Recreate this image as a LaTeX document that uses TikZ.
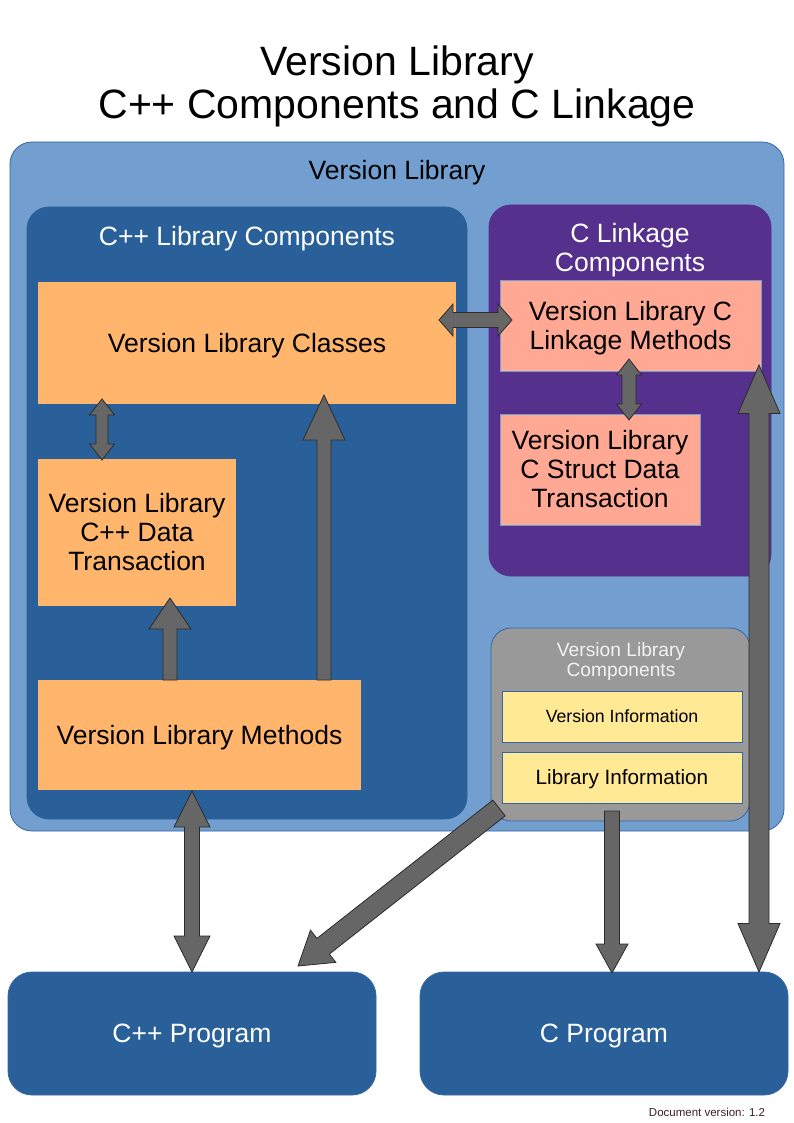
\documentclass[tikz,border=0pt]{standalone}
\usepackage{fontspec}
\setmainfont{Liberation Sans}
\usetikzlibrary{calc}
\definecolor{lightblue}{HTML}{729FCF}
\definecolor{edgeblue}{HTML}{3465A4}
\definecolor{darkblue}{HTML}{2A6099}
\definecolor{purplebg}{HTML}{55308D}
\definecolor{orangebox}{HTML}{FFB66C}
\definecolor{salmonbox}{HTML}{FFA893}
\definecolor{greybox}{HTML}{999999}
\definecolor{yellowbox}{HTML}{FFE994}
\definecolor{arrowfill}{HTML}{666666}
\definecolor{arrowedge}{HTML}{2B2B2B}
\definecolor{footcol}{HTML}{3B1E2B}

% single fat arrow: #1 start, #2 tip, #3 half shaft, #4 half head, #5 head length
\newcommand\fatarrow[5]{%
  \coordinate (fa-a) at #1; \coordinate (fa-b) at #2;
  \coordinate (fa-h) at ($(fa-b)!#5!(fa-a)$);
  \draw[arrowshape] ($(fa-a)!#3!90:(fa-b)$) -- ($(fa-h)!#3!90:(fa-b)$) -- ($(fa-h)!#4!90:(fa-b)$) -- (fa-b)
    -- ($(fa-h)!#4!-90:(fa-b)$) -- ($(fa-h)!#3!-90:(fa-b)$) -- ($(fa-a)!#3!-90:(fa-b)$) -- cycle;}
% double fat arrow
\newcommand\fatdarrow[5]{%
  \coordinate (fa-a) at #1; \coordinate (fa-b) at #2;
  \coordinate (fa-h1) at ($(fa-a)!#5!(fa-b)$);
  \coordinate (fa-h2) at ($(fa-b)!#5!(fa-a)$);
  \draw[arrowshape] (fa-a) -- ($(fa-h1)!#4!90:(fa-b)$) -- ($(fa-h1)!#3!90:(fa-b)$) -- ($(fa-h2)!#3!90:(fa-b)$)
    -- ($(fa-h2)!#4!90:(fa-b)$) -- (fa-b) -- ($(fa-h2)!#4!-90:(fa-b)$) -- ($(fa-h2)!#3!-90:(fa-b)$)
    -- ($(fa-h1)!#3!-90:(fa-b)$) -- ($(fa-h1)!#4!-90:(fa-b)$) -- cycle;}

\begin{document}
\begin{tikzpicture}[x=1pt,y=-1pt,
  boxbase/.style={inner sep=0pt, outer sep=0pt, anchor=north west, align=center},
  container/.style={boxbase, rounded corners=22pt, line width=0.8pt},
  mainfont/.style={font=\fontsize{26.5}{29}\selectfont},
  oneline/.style={text height=24pt, text depth=5.6pt},
  orangestyle/.style={boxbase, mainfont, fill=orangebox, text=black},
  salmonstyle/.style={boxbase, mainfont, fill=salmonbox, draw=lightblue, line width=0.8pt, text=black},
  yellowstyle/.style={boxbase, fill=yellowbox, draw=edgeblue, line width=0.8pt, text=black},
  program/.style={boxbase, mainfont, oneline, rounded corners=24pt, fill=darkblue, draw=edgeblue, line width=0.8pt, text=white},
  arrowshape/.style={fill=arrowfill, draw=arrowedge, line width=0.8pt, line join=miter},
  ]
\useasboundingbox (0,0) rectangle (794,1123);

% title
\node[font=\fontsize{41}{43}\selectfont, align=center] (title) at (397,86) {Version Library\\C++ Components and C Linkage};

% containers
\node[container, fill=lightblue, draw=edgeblue, minimum width=774pt, minimum height=689pt] (outer) at (10,142) {};
\node[mainfont, oneline] (outerlabel) at (397,170) {Version Library};

\node[container, fill=darkblue, draw=darkblue, minimum width=440pt, minimum height=612pt] (cppcomp) at (27,207) {};
\node[mainfont, oneline, text=white] (cpplabel) at (247,236) {C++ Library Components};

\node[container, fill=purplebg, draw=purplebg, minimum width=282pt, minimum height=371pt] (clink) at (489,205) {};
\node[mainfont, text=white, align=center] (clinklabel) at (630,250.5) {C Linkage\\Components};

\node[container, rounded corners=20pt, fill=greybox, draw=edgeblue, minimum width=259pt, minimum height=193pt] (vlcomp) at (491,628) {};
\node[font=\fontsize{19.2}{20}\selectfont, text=white!95!black, align=center] (vlcomplabel) at (621,662) {Version Library\\Components};

% component boxes
\node[orangestyle, oneline, minimum width=418pt, minimum height=122pt] (classes) at (38,282) {Version Library Classes};
\node[orangestyle, minimum width=198pt, minimum height=147pt] (cppdata) at (38,459) {Version Library\\C++ Data\\Transaction};
\node[orangestyle, oneline, minimum width=323pt, minimum height=110pt] (methods) at (38,680) {Version Library Methods};

\node[salmonstyle, minimum width=261pt, minimum height=91pt] (clmeth) at (500,280) {\rule{0pt}{25pt}Version Library C\\Linkage Methods};
\node[salmonstyle, minimum width=200pt, minimum height=111pt] (cstruct) at (500,414) {Version Library\\C Struct Data\\Transaction};

\node[yellowstyle, font=\fontsize{17.7}{20}\selectfont, text height=16pt, text depth=3.8pt, minimum width=240pt, minimum height=51pt] (vinfo) at (502,691) {Version Information};
\node[yellowstyle, font=\fontsize{20.7}{23}\selectfont, text height=18.8pt, text depth=4.4pt, minimum width=240pt, minimum height=51pt] (linfo) at (502,752) {Library Information};

% programs
\node[program, minimum width=368pt, minimum height=123pt] (cppprog) at (8,972) {C++ Program};
\node[program, minimum width=368pt, minimum height=123pt] (cprog) at (420,972) {C Program};

% footer
\node[font=\fontsize{11.5}{13}\selectfont, text=footcol] (footer) at (707,1112) {Document version: 1.2};

% arrows
\fatdarrow{($(classes.east)+(-17,-23)$)}{($(clmeth.west)+(12,-5.5)$)}{7.5pt}{16pt}{14pt}
\fatdarrow{($(classes.south west)+(64,-5)$)}{($(cppdata.north west)+(64,1)$)}{6pt}{12.5pt}{16pt}
\fatdarrow{($(clmeth.south)+(-1.5,-12)$)}{($(cstruct.north)+(29,6)$)}{7pt}{12.5pt}{16pt}
\fatarrow{($(methods.north west)+(132,0)$)}{($(cppdata.south west)+(132,-8)$)}{7pt}{21pt}{31pt}
\fatarrow{($(methods.north west)+(286,0)$)}{($(classes.south west)+(286,-9)$)}{7pt}{21pt}{45pt}
\fatdarrow{($(methods.south west)+(154,1)$)}{(cppprog.north)}{7.5pt}{18pt}{36pt}
\fatarrow{($(linfo.south)+(-10,8)$)}{($(cprog.north)+(8,1)$)}{7.5pt}{16pt}{29pt}
\fatarrow{($(vlcomp.south west)+(8,-13)$)}{($(cppprog.north east)+(-78,-6)$)}{10pt}{20.5pt}{32pt}
\fatdarrow{($(clmeth.south east)+(-2,-6)$)}{($(cprog.north east)+(-29,0)$)}{10pt}{21pt}{48.5pt}
\end{tikzpicture}
\end{document}
